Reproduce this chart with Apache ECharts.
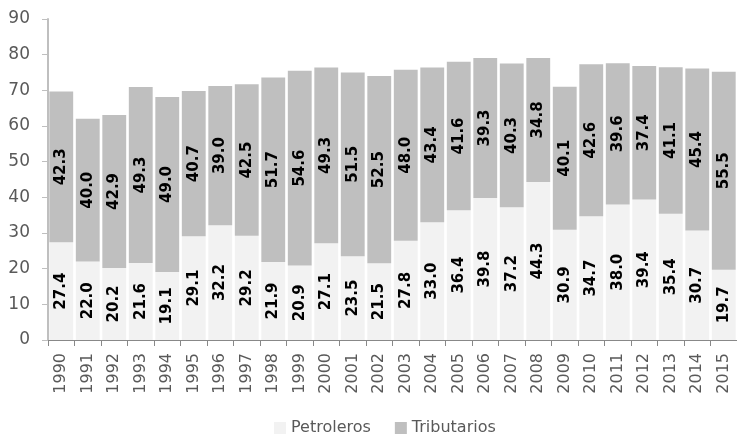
<!DOCTYPE html>
<html><head><meta charset="utf-8">
<script src="https://cdn.jsdelivr.net/npm/echarts@6/dist/echarts.min.js"></script>
<style>html,body{margin:0;padding:0;background:#fff}#c{width:737px;height:436px}</style>
</head><body><div id="c"></div>
<script>
const years = ['1990','1991','1992','1993','1994','1995','1996','1997','1998','1999','2000','2001','2002','2003','2004','2005','2006','2007','2008','2009','2010','2011','2012','2013','2014','2015'];
const petroleros = [27.4,22.0,20.2,21.6,19.1,29.1,32.2,29.2,21.9,20.9,27.1,23.5,21.5,27.8,33.0,36.4,39.8,37.2,44.3,30.9,34.7,38.0,39.4,35.4,30.7,19.7];
const tributarios = [42.3,40.0,42.9,49.3,49.0,40.7,39.0,42.5,51.7,54.6,49.3,51.5,52.5,48.0,43.4,41.6,39.3,40.3,34.8,40.1,42.6,39.6,37.4,41.1,45.4,55.5];
const yTicks = [0,10,20,30,40,50,60,70,80,90];

const chart = echarts.init(document.getElementById('c'), null, {renderer:'canvas'});
const lbl = {
  show:true, position:'inside', rotate:90,
  fontFamily:'DejaVu Sans', fontWeight:'bold', fontSize:15, color:'#000',
  formatter: p => p.value.toFixed(1)
};
chart.setOption({
  animation:false,
  grid:{left:48, top:19, width:694, height:321, containLabel:false},
  legend:{
    top:420, left:274, padding:0, itemWidth:12, itemHeight:12, itemGap:24,
    icon:'rect',
    textStyle:{fontFamily:'DejaVu Sans', fontSize:16, color:'#595959'},
    data:['Petroleros','Tributarios']
  },
  xAxis:{
    type:'category', data:years,
    axisLine:{lineStyle:{color:'#888', width:1}},
    axisTick:{show:true, length:6, lineStyle:{color:'#888'}},
    axisLabel:{rotate:90, fontFamily:'DejaVu Sans', fontSize:16, color:'#595959', margin:13}
  },
  yAxis:{
    type:'value', min:yTicks[0], max:yTicks[yTicks.length-1], interval:10,
    splitLine:{show:false},
    axisLine:{show:true, lineStyle:{color:'#bfbfbf', width:2}},
    axisTick:{show:true, length:6, lineStyle:{color:'#bfbfbf'}},
    axisLabel:{fontFamily:'DejaVu Sans', fontSize:17, color:'#595959', margin:18}
  },
  series:[
    {name:'Petroleros', type:'bar', stack:'t', data:petroleros, barCategoryGap:'10%',
     itemStyle:{color:'#f2f2f2'}, label:lbl},
    {name:'Tributarios', type:'bar', stack:'t', data:tributarios, barCategoryGap:'10%',
     itemStyle:{color:'#bfbfbf'}, label:lbl}
  ]
});
</script></body></html>
